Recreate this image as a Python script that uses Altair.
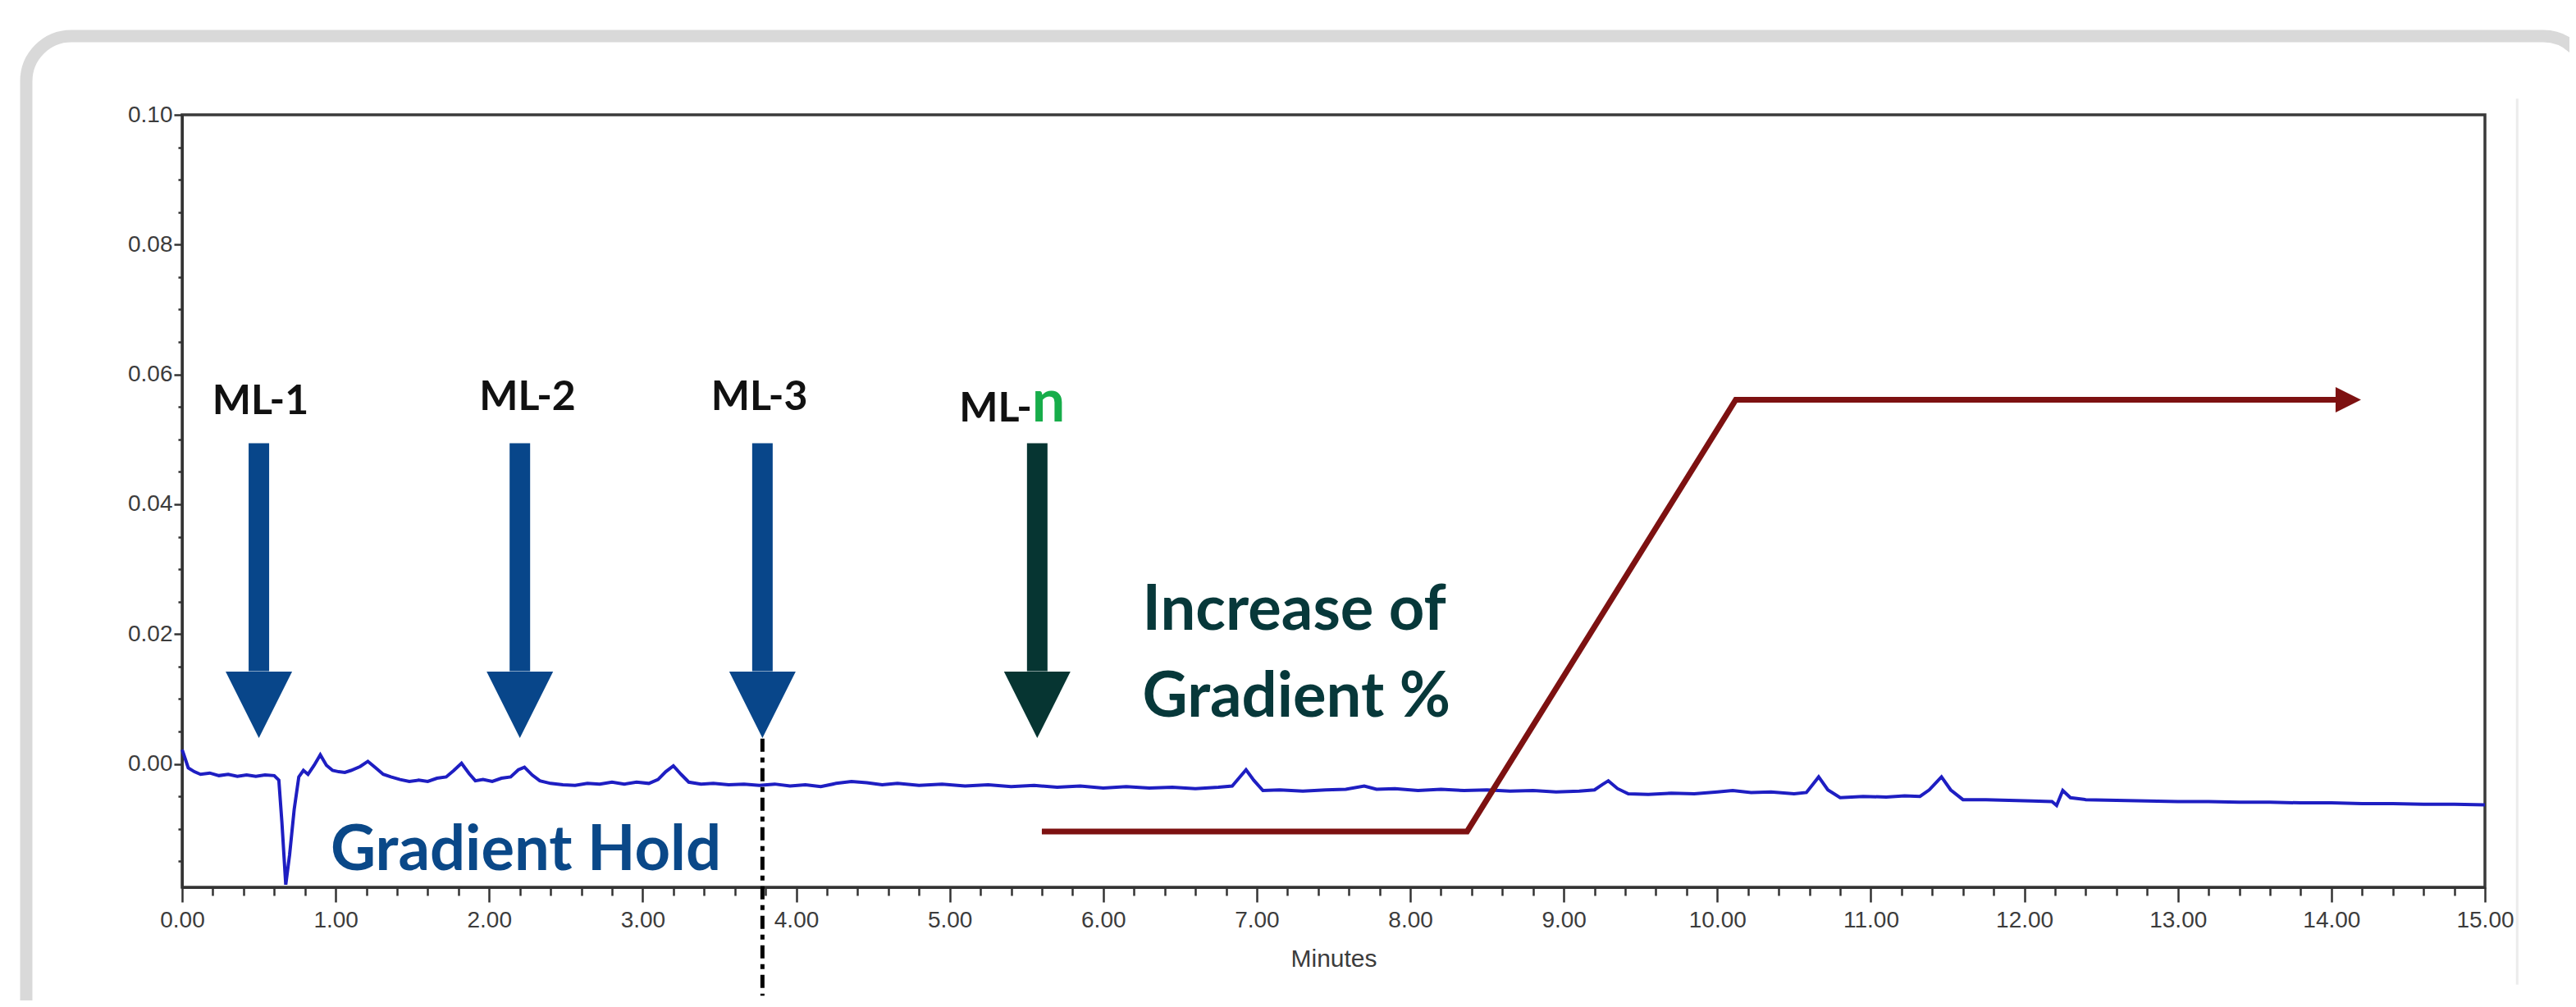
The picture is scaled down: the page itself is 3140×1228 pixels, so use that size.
import altair as alt
import pandas as pd

# ---------------- data ----------------
trace_min = [0.00, 0.02, 0.04, 0.08, 0.12, 0.18, 0.24, 0.30, 0.36, 0.42, 0.48, 0.54, 0.60, 0.63, 0.65,
             0.675, 0.70, 0.73, 0.76, 0.79, 0.82, 0.86, 0.90, 0.94, 0.98, 1.02, 1.06, 1.10, 1.16, 1.21,
             1.26, 1.31, 1.36, 1.42, 1.48, 1.54, 1.60, 1.66, 1.72, 1.77, 1.82, 1.87, 1.91, 1.96, 2.02,
             2.08, 2.14, 2.19, 2.23, 2.28, 2.33, 2.40, 2.48, 2.56, 2.64, 2.72, 2.80, 2.88, 2.96, 3.04,
             3.10, 3.15, 3.20, 3.25, 3.30, 3.38, 3.46, 3.56, 3.66, 3.76, 3.86, 3.96, 4.06, 4.16, 4.26,
             4.36, 4.46, 4.56, 4.66, 4.80, 4.95, 5.10, 5.25, 5.40, 5.55, 5.70, 5.85, 6.00, 6.15, 6.30,
             6.45, 6.60, 6.75, 6.84, 6.89, 6.93, 6.98, 7.04, 7.15, 7.30, 7.45, 7.58, 7.70, 7.78, 7.90,
             8.05, 8.20, 8.35, 8.50, 8.65, 8.80, 8.95, 9.10, 9.20, 9.25, 9.29, 9.35, 9.42, 9.55, 9.70,
             9.85, 10.00, 10.10, 10.22, 10.35, 10.50, 10.58, 10.62, 10.66, 10.72, 10.80, 10.95, 11.10, 11.22, 11.32,
             11.38, 11.46, 11.52, 11.60, 11.75, 11.90, 12.05, 12.18, 12.21, 12.25, 12.30, 12.40, 12.60, 12.80, 13.00,
             13.20, 13.40, 13.60, 13.80, 14.00, 14.20, 14.40, 14.60, 14.80, 15.00]
trace_abs = [0.0022, 0.0008, -0.0006, -0.0012, -0.0016, -0.0014, -0.0018, -0.0016, -0.0019, -0.0017, -0.0019, -0.0017, -0.0018, -0.0025, -0.0090,
             -0.0186, -0.0140, -0.0070, -0.0020, -0.0010, -0.0016, -0.0002, 0.0014, -0.0002, -0.0010, -0.0012, -0.0013, -0.0010, -0.0004, 0.0004,
             -0.0006, -0.0016, -0.0020, -0.0024, -0.0027, -0.0025, -0.0027, -0.0022, -0.0020, -0.0010, 0.0001, -0.0015, -0.0026, -0.0024, -0.0027,
             -0.0022, -0.0020, -0.0009, -0.0005, -0.0017, -0.0026, -0.0030, -0.0032, -0.0033, -0.0030, -0.0031, -0.0028, -0.0031, -0.0028, -0.0030,
             -0.0024, -0.0012, -0.0003, -0.0016, -0.0028, -0.0031, -0.0030, -0.0032, -0.0031, -0.0033, -0.0031, -0.0034, -0.0032, -0.0035, -0.0030,
             -0.0027, -0.0029, -0.0032, -0.0030, -0.0033, -0.0031, -0.0034, -0.0032, -0.0035, -0.0033, -0.0036, -0.0034, -0.0037, -0.0035, -0.0037,
             -0.0036, -0.0038, -0.0036, -0.0034, -0.0020, -0.0009, -0.0025, -0.0041, -0.0040, -0.0042, -0.0040, -0.0039, -0.0034, -0.0039, -0.0038,
             -0.0041, -0.0039, -0.0041, -0.0040, -0.0042, -0.0041, -0.0043, -0.0042, -0.0040, -0.0032, -0.0026, -0.0038, -0.0046, -0.0047, -0.0045,
             -0.0046, -0.0043, -0.0041, -0.0044, -0.0043, -0.0046, -0.0044, -0.0032, -0.0020, -0.0040, -0.0052, -0.0050, -0.0051, -0.0049, -0.0050,
             -0.0040, -0.0020, -0.0040, -0.0055, -0.0055, -0.0056, -0.0057, -0.0058, -0.0064, -0.0041, -0.0052, -0.0055, -0.0056, -0.0057, -0.0058,
             -0.0058, -0.0059, -0.0059, -0.0060, -0.0060, -0.0061, -0.0061, -0.0062, -0.0062, -0.0063]

# injection arrows (ML-1, ML-2, ML-3, ML-n)
arrow_names = ["ML-1", "ML-2", "ML-3", "ML-n"]
arrow_min = [0.50, 2.20, 3.78, 5.57]
arrow_top = [0.0494, 0.0494, 0.0494, 0.0494]
arrow_base = [0.0143, 0.0143, 0.0143, 0.0143]
arrow_head = [0.0091, 0.0091, 0.0091, 0.0091]

label_text = ["ML-1", "ML-2", "ML-3"]
label_min = [0.51, 2.25, 3.76]
label_abs = [0.0539, 0.0545, 0.0545]
mln_prefix, mln_suffix = "ML-", "n"
mln_min, mln_abs = 5.535, 0.0528

# gradient program (maroon)
grad_min = [5.60, 8.37, 10.12, 14.04]
grad_abs = [-0.0104, -0.0104, 0.0561, 0.0561]
grad_tip_min, grad_tip_abs = 14.11, 0.0561

# end of gradient hold (dashed)
hold_min = 3.78
hold_top, hold_bottom = 0.0039, -0.0357

hold_text, hold_text_min, hold_text_abs = "Gradient Hold", 0.967, -0.0163
inc_text = ["Increase of", "Gradient %"]
inc_min = [6.255, 6.255]
inc_abs = [0.0207, 0.0073]

# faint separator at the right of the plot
edge_min, edge_top, edge_bottom = 15.21, 0.1025, -0.034

x_ticks = [round(i * 0.2, 1) for i in range(76)]
y_ticks = [round(-0.015 + i * 0.005, 3) for i in range(24)]

# ---------------- chart ----------------
XS = alt.Scale(domain=[0, 15], nice=False, zero=False)
YS = alt.Scale(domain=[-0.019, 0.10], nice=False, zero=False)
TICKFONT = "Liberation Sans Narrow, Liberation Sans, Arial"

x_axis = alt.Axis(
    values=x_ticks, title="Minutes", grid=False,
    labelExpr="abs(datum.value - round(datum.value)) < 0.000001 ? format(datum.value, '.2f') : ''",
    tickSize={"condition": {"test": "abs(datum.value - round(datum.value)) < 0.000001", "value": 18}, "value": 10},
    tickColor="#333", tickWidth=2.5, domainColor="#333", domainWidth=3,
    labelFont=TICKFONT, labelFontSize=28, labelColor="#3c3c3c", labelPadding=8,
    labelOverlap=False, labelFlush=False, labelBound=False,
    titleFont=TICKFONT, titleFontSize=30, titleFontWeight="normal", titleColor="#3c3c3c", titlePadding=18,
)
y_axis = alt.Axis(
    values=y_ticks, title=None, grid=False,
    labelExpr="abs(datum.value*50 - round(datum.value*50)) < 0.000001 && datum.value > -0.000001 ? format(datum.value, '.2f') : ''",
    tickSize={"condition": {"test": "abs(datum.value*50 - round(datum.value*50)) < 0.000001", "value": 10}, "value": 5},
    tickColor="#333", tickWidth=2.5, domainColor="#333", domainWidth=3,
    labelFont=TICKFONT, labelFontSize=28, labelColor="#3c3c3c", labelPadding=2,
    labelOverlap=False, labelBound=False, labelBaseline="middle",
)


def X(field):
    return alt.X(field, type="quantitative", scale=XS, axis=x_axis)


def Y(field):
    return alt.Y(field, type="quantitative", scale=YS, axis=y_axis)


one = alt.Data(values=[{"k": 0}])

frame = alt.Chart(one).mark_rect(
    fillOpacity=0, stroke="#d9d9d9", strokeWidth=15, cornerRadius=55
).encode(x=alt.value(-190), x2=alt.value(2933), y=alt.value(-96), y2=alt.value(1300))

edge = alt.Chart(pd.DataFrame({"t": [edge_min], "a": [edge_top], "b": [edge_bottom]})).mark_rule(
    color="#ececec", strokeWidth=3
).encode(x=X("t"), y=Y("a"), y2="b:Q")

trace_df = pd.DataFrame({"t": trace_min, "v": trace_abs})
trace = alt.Chart(trace_df).mark_line(color="#1e1ec2", strokeWidth=4).encode(x=X("t"), y=Y("v"))

grad_df = pd.DataFrame({"t": grad_min, "v": grad_abs, "o": list(range(len(grad_min)))})
grad = alt.Chart(grad_df).mark_line(color="#7d1111", strokeWidth=7, strokeJoin="miter").encode(
    x=X("t"), y=Y("v"), order="o:O"
)
grad_tip = alt.Chart(pd.DataFrame({"t": [grad_tip_min], "v": [grad_tip_abs]})).mark_point(
    shape="M-1,-1L1,0L-1,1Z", filled=True, color="#7d1111", size=961, opacity=1
).encode(x=X("t"), y=Y("v"))

arrow_df = pd.DataFrame({"name": arrow_names, "t": arrow_min, "top": arrow_top,
                         "base": arrow_base, "head": arrow_head})
arrow_color = alt.condition("datum.name === 'ML-n'", alt.value("#063532"), alt.value("#08468a"))
shafts = alt.Chart(arrow_df).mark_rule(strokeWidth=25, strokeCap="butt").encode(
    x=X("t"), y=Y("top"), y2="base:Q", color=arrow_color,
)
heads = alt.Chart(arrow_df).mark_point(shape="M-1,-1L1,-1L0,1Z", filled=True, size=6561, opacity=1).encode(
    x=X("t"), y=Y("head"), color=arrow_color,
)

dash_df = pd.DataFrame({"t": [hold_min], "a": [hold_top], "b": [hold_bottom]})
dashed = alt.Chart(dash_df).mark_rule(color="#000", strokeWidth=5, strokeDash=[16, 7, 6, 7]).encode(
    x=X("t"), y=Y("a"), y2="b:Q"
)

lab_df = pd.DataFrame({"txt": label_text, "t": label_min, "v": label_abs})
labels = alt.Chart(lab_df).mark_text(
    align="center", baseline="alphabetic", font="Lato", fontWeight="bold", fontSize=50, color="#111"
).encode(x=X("t"), y=Y("v"), text="txt:N")

mln_df = pd.DataFrame({"t": [mln_min], "v": [mln_abs]})
mln_a = alt.Chart(mln_df).mark_text(
    align="right", baseline="alphabetic", font="Lato", fontWeight="bold", fontSize=50, color="#111", text=mln_prefix
).encode(x=X("t"), y=Y("v"))
mln_b = alt.Chart(mln_df).mark_text(
    align="left", baseline="alphabetic", font="Lato", fontWeight="bold", fontSize=72, color="#17ad4a", text=mln_suffix
).encode(x=X("t"), y=Y("v"))

hold_df = pd.DataFrame({"txt": [hold_text], "t": [hold_text_min], "v": [hold_text_abs]})
hold = alt.Chart(hold_df).mark_text(
    align="left", baseline="alphabetic", font="Lato", fontWeight="bold", fontSize=76, color="#0a4888"
).encode(x=X("t"), y=Y("v"), text="txt:N")

inc_df = pd.DataFrame({"txt": inc_text, "t": inc_min, "v": inc_abs})
inc = alt.Chart(inc_df).mark_text(
    align="left", baseline="alphabetic", font="Lato", fontWeight="bold", fontSize=76, color="#07383a"
).encode(x=X("t"), y=Y("v"), text="txt:N")

chart = alt.layer(
    frame, edge, trace, grad, grad_tip, shafts, heads, dashed, labels, mln_a, mln_b, hold, inc
).properties(
    width=2807, height=942,
    autosize=alt.AutoSizeParams(type="none"),
    padding={"left": 214, "top": 132, "right": 103, "bottom": 138},
    background="white",
).configure_view(stroke="#3a3a3a", strokeWidth=3.5)

chart.save("out.html", embed_options={"renderer": "svg", "actions": False})
